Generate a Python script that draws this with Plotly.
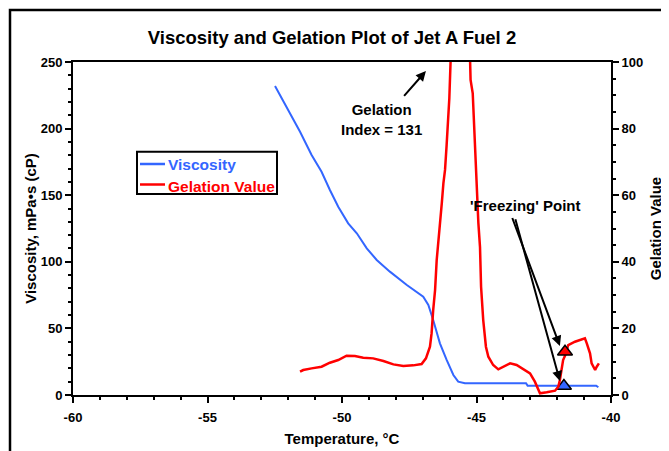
import plotly.graph_objects as go

# ---- data ----
visc_temp = [-52.49, -51.93, -51.56, -51.13, -50.76, -50.45, -50.14, -49.77, -49.45, -49.08,
             -48.71, -48.22, -47.59, -46.98, -46.79, -46.61, -46.36, -46.11, -45.86, -45.68,
             -45.43, -44.13, -43.16, -43.10, -40.55, -40.47]
viscosity = [232.0, 211.4, 197.6, 180.2, 167.6, 153.9, 141.4, 128.9, 121.4, 110.1,
             101.4, 92.6, 82.6, 73.8, 67.6, 56.3, 38.8, 26.3, 15.0, 10.0,
             8.8, 8.8, 8.8, 7.0, 7.0, 5.8]

gel_temp = [-51.56, -51.44, -51.13, -50.76, -50.45, -50.14, -49.83, -49.52, -49.21, -48.84,
            -48.46, -48.09, -47.72, -47.35, -47.04, -46.88, -46.73, -46.67, -46.61, -46.54,
            -46.48, -46.38, -46.29, -46.23, -46.17, -46.11, -46.05, -46.01, -45.96, -45.60,
            -45.24, -45.22, -45.14, -45.09, -45.04, -44.99, -44.93, -44.87, -44.83, -44.75,
            -44.65, -44.56, -44.38, -44.19, -44.00, -43.75, -43.51, -43.20, -43.01, -42.83,
            -42.70, -42.64, -42.39, -42.08, -41.96, -41.90, -41.84, -41.78, -41.67, -41.59,
            -41.34, -41.09, -40.97, -40.90, -40.78, -40.72, -40.59, -40.53, -40.45]
gelation = [7.0, 7.5, 8.0, 8.5, 9.7, 10.5, 11.8, 11.7, 11.2, 11.0,
            10.2, 9.2, 8.7, 8.9, 9.3, 11.0, 14.5, 18.5, 25.5, 31.5,
            40.5, 48.6, 57.6, 63.6, 67.6, 75.1, 82.6, 89.1, 101, 131,
            101, 94.6, 90.6, 80.6, 71.6, 60.6, 51.6, 44.5, 32.5, 22.5,
            14.5, 11.5, 9.0, 7.7, 8.5, 9.5, 9.0, 7.5, 6.5, 4.0,
            1.5, 0.5, 0.8, 1.3, 2.5, 4.5, 7.5, 10.5, 12.5, 15.0,
            16.0, 16.7, 17.0, 15.5, 12.5, 9.5, 7.5, 8.5, 9.5]

freeze_temp_visc = [-41.75]
freeze_visc = [6.8]
freeze_temp_gel = [-41.71]
freeze_gel = [13.0]

x_ticks = [-60, -55, -50, -45, -40]
x_ticklabels = ["-60", "-55", "-50", "-45", "-40"]

series_names = ["Viscosity", "Gelation Value"]

BLUE = "#3366FF"
RED = "#FF0000"
FONT = "Arial, Liberation Sans, sans-serif"

fig = go.Figure()
fig.add_trace(go.Scatter(x=visc_temp, y=viscosity, mode="lines",
                         line=dict(color=BLUE, width=2), name=series_names[0],
                         yaxis="y", showlegend=False))
fig.add_trace(go.Scatter(x=gel_temp, y=gelation, mode="lines",
                         line=dict(color=RED, width=2.5), name=series_names[1],
                         yaxis="y2", showlegend=False))
fig.add_trace(go.Scatter(x=freeze_temp_gel, y=freeze_gel, mode="markers", yaxis="y2",
                         marker=dict(symbol="triangle-up", size=13, color=RED,
                                     line=dict(color="black", width=1.5)),
                         showlegend=False))
fig.add_trace(go.Scatter(x=freeze_temp_visc, y=freeze_visc, mode="markers", yaxis="y",
                         marker=dict(symbol="triangle-up", size=13, color=BLUE,
                                     line=dict(color="black", width=1.5)),
                         showlegend=False))

axis_common = dict(showgrid=False, zeroline=False, showline=True, linecolor="black",
                   linewidth=2, ticks="outside", ticklen=6, tickwidth=2, tickcolor="black",
                   automargin=False,
                   tickfont=dict(family=FONT, size=13, color="black", weight="bold"))
title_font = dict(family=FONT, size=15, color="black", weight="bold")

# The page body adds an 8px offset; the layout is shifted to compensate.
OFF = 8
fig.update_layout(
    width=669, height=451,
    margin=dict(l=73 - OFF, r=669 - (611 - OFF), t=62 - OFF, b=451 - (395 - OFF)),
    paper_bgcolor="white", plot_bgcolor="white",
    font=dict(family=FONT, color="black"),
    title=dict(text="Viscosity and Gelation Plot of Jet A Fuel 2",
               font=dict(family=FONT, size=18.5, color="black", weight="bold"),
               x=(332 - OFF) / 669, xref="container", xanchor="center",
               y=1 - (38 - OFF) / 451, yref="container", yanchor="middle"),
    xaxis=dict(range=[-60, -40], tickvals=x_ticks, ticktext=x_ticklabels, mirror=True,
               ticklabelstandoff=3,
               minor=dict(dtick=1, ticks="outside", ticklen=3, tickwidth=2, tickcolor="black"),
               title=dict(text="Temperature, °C", standoff=10, font=title_font),
               **axis_common),
    yaxis=dict(range=[0, 250], dtick=50,
               minor=dict(dtick=10, ticks="outside", ticklen=3, tickwidth=2, tickcolor="black"),
               title=dict(text="Viscosity, mPa•s (cP)", standoff=0, font=title_font),
               **axis_common),
    yaxis2=dict(range=[0, 100], dtick=20, overlaying="y", side="right",
                minor=dict(dtick=5, ticks="outside", ticklen=3, tickwidth=2, tickcolor="black"),
                title=dict(text="Gelation Value", standoff=8, font=title_font),
                **axis_common),
    showlegend=False,
)

# ---- legend box (drawn in plot-area paper coordinates) ----
def px(xp):
    return (xp - 73) / 538

def py(yp):
    return (395 - yp) / 333

fig.add_shape(type="rect", xref="paper", yref="paper",
              x0=px(137), x1=px(277), y0=py(194), y1=py(151.7),
              line=dict(color="black", width=2), fillcolor="white", layer="above")
for name, col, yl, yt in [(series_names[0], BLUE, 164, 164.5),
                          (series_names[1], RED, 184.5, 186.5)]:
    fig.add_shape(type="line", xref="paper", yref="paper",
                  x0=px(140), x1=px(165), y0=py(yl), y1=py(yl),
                  line=dict(color=col, width=2.5), layer="above")
    fig.add_annotation(x=px(166), y=py(yt), xref="paper", yref="paper", text=name,
                       xanchor="left", yanchor="middle", showarrow=False,
                       font=dict(family=FONT, size=15.5, color=col, weight="bold"))

ann_font = dict(family=FONT, size=15, color="black", weight="bold")
fig.add_annotation(x=-48.52, y=206.5, xref="x", yref="y", text="Gelation<br>Index = 131",
                   showarrow=False, font=ann_font, align="center")
fig.add_annotation(x=-46.88, y=243.2, ax=-47.74, ay=223.5, xref="x", yref="y",
                   axref="x", ayref="y", text="", showarrow=True,
                   arrowhead=2, arrowsize=1, arrowwidth=2, arrowcolor="black")
fig.add_annotation(x=-43.20, y=142.0, xref="x", yref="y", text="'Freezing' Point",
                   showarrow=False, font=ann_font)
fig.add_annotation(x=-41.90, y=36.8, ax=-43.69, ay=134.0, xref="x", yref="y",
                   axref="x", ayref="y", text="", showarrow=True,
                   arrowhead=2, arrowsize=1, arrowwidth=2, arrowcolor="black")
fig.add_annotation(x=-41.90, y=10.5, ax=-43.57, ay=133.0, xref="x", yref="y",
                   axref="x", ayref="y", text="", showarrow=True,
                   arrowhead=2, arrowsize=1, arrowwidth=2, arrowcolor="black")

# outer frame
fig.add_shape(type="rect", xref="paper", yref="paper",
              x0=px(10), x1=px(663), y0=-0.3, y1=py(10),
              line=dict(color="black", width=2.5), fillcolor="rgba(0,0,0,0)", layer="above")

fig.write_html("out.html")
